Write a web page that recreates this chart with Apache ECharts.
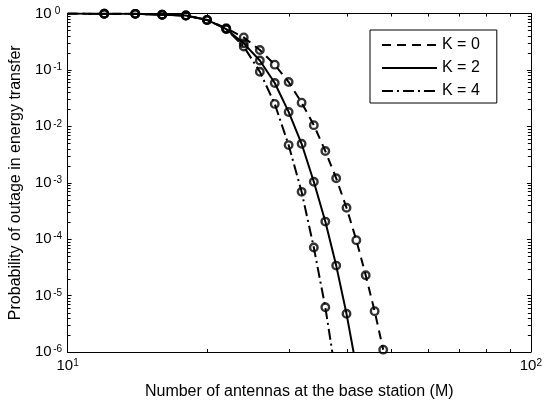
<!DOCTYPE html>
<html><head><meta charset="utf-8">
<script src="https://cdn.jsdelivr.net/npm/echarts@6/dist/echarts.min.js"></script>
<style>html,body{margin:0;padding:0;background:#fff}#c{width:545px;height:405px}</style>
</head><body><div id="c"></div>
<script>
// ---- data ----
const antennas = [10, 12, 14, 16, 18, 20, 22, 24, 26, 28, 30, 32, 34, 36, 38, 40, 42, 44, 46, 48];
const outageK0 = [1, 0.99, 0.985, 0.95, 0.92, 0.77, 0.55, 0.377, 0.225, 0.124, 0.061, 0.0263, 0.0105, 3.65e-3, 1.2e-3, 3.6e-4, 9.6e-5, 2.3e-5, 5.3e-6, 1.1e-6];
const outageK2 = [1, 0.99, 0.985, 0.95, 0.92, 0.77, 0.53, 0.295, 0.147, 0.0587, 0.018, 4.9e-3, 1.04e-3, 2.05e-4, 3.4e-5, 4.75e-6, 5.4e-7];
const outageK4 = [1, 0.99, 0.985, 0.95, 0.92, 0.77, 0.53, 0.26, 0.093, 0.025, 4.65e-3, 6.9e-4, 7.1e-5, 6.2e-6, 3.6e-7];
const seriesNames = ['K = 0', 'K = 2', 'K = 4'];
const xMin = 10, xMax = 100, yMin = 1e-6, yMax = 1;
const xMinorTicks = [20, 30, 40, 50, 60, 70, 80, 90];
const yMinorMantissas = [2, 3, 4, 5, 6, 7, 8, 9];
const yDecades = [-6, -5, -4, -3, -2, -1];
const xAxisTitle = 'Number of antennas at the base station (M)';
const yAxisTitle = 'Probability of outage in energy transfer';

// ---- build ----
const FONT = 'Liberation Sans, Arial, Helvetica, sans-serif';
const yMinorTicks = [];
yDecades.forEach(d => yMinorMantissas.forEach(m => yMinorTicks.push(m * Math.pow(10, d))));

const styles = [
  { type: [9, 6] },
  { type: 'solid' },
  { type: [11, 4, 2, 4] }
];
const allVals = [outageK0, outageK2, outageK4];

function pairs(vals) {
  const out = [];
  vals.forEach((v, i) => out.push([antennas[i], v]));
  return out;
}
function markerPairs(vals) {
  const out = [];
  vals.forEach((v, i) => { if (i >= 1 && v >= yMin) out.push([antennas[i], v]); });
  return out;
}
function expLabel(v, sup) {
  const e = Math.round(Math.log10(v));
  return '{b|10}{' + sup + '|' + e + '}';
}
const richY = {
  b: { fontFamily: FONT, fontSize: 15, color: '#000', lineHeight: 15, padding: [6, 0, 6, 0] },
  s: { fontFamily: FONT, fontSize: 10, color: '#000', lineHeight: 10, verticalAlign: 'top', width: 12, align: 'left' }
};
const richX = {
  b: { fontFamily: FONT, fontSize: 15, color: '#000', lineHeight: 15, padding: [6, 0, 6, 0] },
  t: { fontFamily: FONT, fontSize: 10, color: '#000', lineHeight: 10, verticalAlign: 'top' }
};

const series = [];
allVals.forEach((vals, k) => {
  series.push({
    name: seriesNames[k], type: 'line', data: pairs(vals),
    symbol: 'none', clip: true, z: 3,
    lineStyle: { color: '#000', width: 2, type: styles[k].type },
    itemStyle: { color: '#000' }
  });
});
allVals.forEach((vals, k) => {
  series.push({
    name: 'sim' + k, type: 'scatter', data: markerPairs(vals),
    symbol: 'circle', symbolSize: 7.5, clip: false, z: 4,
    itemStyle: { color: 'rgba(0,0,0,0)', borderColor: '#000', borderWidth: 2.4 }
  });
});
const MINOR = 3;
series.push({
  type: 'custom', silent: true, z: 5, clip: false,
  data: xMinorTicks.map(v => [v, yMin]),
  renderItem: function (params, api) {
    const v = api.value(0);
    const p0 = api.coord([v, yMin]), p1 = api.coord([v, yMax]);
    const x = Math.round(p0[0]) + 0.5;
    return { type: 'group', children: [
      { type: 'line', shape: { x1: x, y1: p0[1], x2: x, y2: p0[1] - MINOR }, style: { stroke: '#000', lineWidth: 1 } },
      { type: 'line', shape: { x1: x, y1: p1[1], x2: x, y2: p1[1] + MINOR }, style: { stroke: '#000', lineWidth: 1 } }
    ]};
  }
});
series.push({
  type: 'custom', silent: true, z: 5, clip: false,
  data: yMinorTicks.map(v => [xMin, v]),
  renderItem: function (params, api) {
    const v = api.value(1);
    const p0 = api.coord([xMin, v]), p1 = api.coord([xMax, v]);
    const y = Math.round(p0[1]) + 0.5;
    return { type: 'group', children: [
      { type: 'line', shape: { x1: p0[0], y1: y, x2: p0[0] + MINOR, y2: y }, style: { stroke: '#000', lineWidth: 1 } },
      { type: 'line', shape: { x1: p1[0], y1: y, x2: p1[0] - MINOR, y2: y }, style: { stroke: '#000', lineWidth: 1 } }
    ]};
  }
});

const axisCommon = {
  type: 'log', logBase: 10,
  axisLine: { show: true, onZero: false, lineStyle: { color: '#000', width: 1 } },
  axisTick: { show: true, inside: true, length: 4, lineStyle: { color: '#000' } },
  splitLine: { show: false }, minorTick: { show: false }
};

const option = {
  animation: false,
  backgroundColor: '#fff',
  textStyle: { fontFamily: FONT },
  grid: { left: 67, right: 12, top: 12, bottom: 53, containLabel: false },
  legend: {
    data: seriesNames, orient: 'vertical', left: 370, top: 30,
    padding: [7, 17, 4, 11], itemGap: 7, itemWidth: 55, itemHeight: 14,
    backgroundColor: '#fff', borderColor: '#000', borderWidth: 1, borderRadius: 0,
    itemStyle: { color: 'rgba(0,0,0,0)', borderWidth: 0, opacity: 0 },
    textStyle: { fontFamily: FONT, fontSize: 16, color: '#000', lineHeight: 16 },
    selectedMode: false
  },
  xAxis: [
    Object.assign({}, axisCommon, {
      position: 'bottom', min: xMin, max: xMax,
      name: xAxisTitle, nameLocation: 'middle', nameGap: 30,
      nameTextStyle: { fontFamily: FONT, fontSize: 16, color: '#000' },
      axisLabel: { show: true, margin: 6, formatter: v => expLabel(v, 't'), rich: richX }
    }),
    Object.assign({}, axisCommon, {
      position: 'top', min: xMin, max: xMax, axisLabel: { show: false }
    })
  ],
  yAxis: [
    Object.assign({}, axisCommon, {
      position: 'left', min: yMin, max: yMax,
      name: yAxisTitle, nameLocation: 'middle', nameGap: 43, nameRotate: 90,
      nameTextStyle: { fontFamily: FONT, fontSize: 16, color: '#000' },
      axisLabel: { show: true, margin: 4, formatter: v => expLabel(v, 's'), rich: richY }
    }),
    Object.assign({}, axisCommon, {
      position: 'right', min: yMin, max: yMax, axisLabel: { show: false }
    })
  ],
  series: series
};
const chart = echarts.init(document.getElementById('c'), null, { renderer: 'canvas' });
chart.setOption(option);
</script></body></html>
